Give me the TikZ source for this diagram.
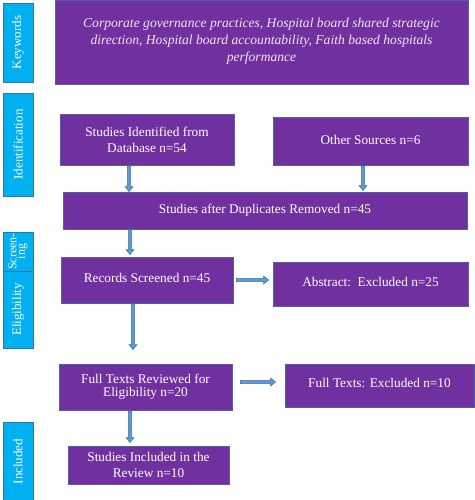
\documentclass[tikz,border=0pt]{standalone}
\usepackage{fontspec}
\setmainfont{Liberation Serif}
\usetikzlibrary{calc}
\definecolor{purp}{HTML}{7030A0}
\definecolor{purpedge}{HTML}{4F5FA0}
\definecolor{sideblue}{HTML}{00B0F0}
\definecolor{sideedge}{HTML}{2E75B6}
\definecolor{arrfill}{HTML}{5B9BD5}
\definecolor{arredge}{HTML}{41719C}
\tikzset{
  pbox/.style={draw=purpedge, line width=0.8pt, fill=purp, text=white, inner sep=0pt, align=center,
    font=\fontsize{13.3}{16}\selectfont},
  sidebox/.style={draw=sideedge, line width=0.8pt, fill=sideblue, text=white, inner sep=0pt,
    minimum width=30pt, align=center},
  sidetext/.style={rotate=90, text=white, align=center, font=\fontsize{13}{14}\selectfont},
  darrow/.style={draw=arredge, fill=arrfill, line width=0.5pt, to path={
    let \p1=(\tikztostart), \p2=(\tikztotarget) in
    (\x1-1.6pt,\y1) -- (\x1-1.6pt,\y2+5pt) -- (\x1-4pt,\y2+5pt) -- (\x1,\y2) --
    (\x1+4pt,\y2+5pt) -- (\x1+1.6pt,\y2+5pt) -- (\x1+1.6pt,\y1) -- cycle}},
  rarrow/.style={draw=arredge, fill=arrfill, line width=0.5pt, to path={
    let \p1=(\tikztostart), \p2=(\tikztotarget) in
    (\x1,\y1+1.6pt) -- (\x2-5pt,\y1+1.6pt) -- (\x2-5pt,\y1+4pt) -- (\x2,\y1) --
    (\x2-5pt,\y1-4pt) -- (\x2-5pt,\y1-1.6pt) -- (\x1,\y1-1.6pt) -- cycle}}
}
\begin{document}
\begin{tikzpicture}[x=1pt,y=-1pt]
\useasboundingbox (0,0) rectangle (474,500);
\fill[white] (0,0) rectangle (474,500);

% side labels
\node[sidebox, minimum height=79pt] (kwL) at (18,42.5) {};
\node[sidetext] (kwT) at (kwL.center) {Keywords};
\node[sidebox, minimum height=103pt] (idL) at (18,144.5) {};
\node[sidetext] (idT) at (idL.center) {Identification};
\node[sidebox, minimum height=39pt] (scL) at (18,251.5) {};
\node[sidetext, font=\fontsize{12}{8.5}\selectfont] (scT) at (scL.center) {Screen-\\ing};
\node[sidebox, minimum height=77pt] (elL) at (18,309.5) {};
\node[sidetext] (elT) at (elL.center) {Eligibility};
\node[sidebox, minimum height=79pt] (inL) at (18,461.5) {};
\node[sidetext] (inT) at (inL.center) {Included};

% main boxes
\node[pbox, minimum width=413pt, minimum height=84pt,
  font=\fontsize{13.6}{16}\selectfont\itshape, text=white!88!purp] (kw) at (261.5,42)
  {\raisebox{4pt}{\shortstack{Corporate governance practices, Hospital board shared strategic\\[1.5pt]
   direction, Hospital board accountability, Faith based hospitals\\[1.5pt] performance}}};
\node[pbox, minimum width=174pt, minimum height=51pt] (db) at (147,139.5)
  {Studies Identified from\\Database n=54};
\node[pbox, minimum width=195pt, minimum height=48pt] (other) at (370.5,141)
  {\raisebox{3pt}{Other Sources n=6}};
\node[pbox, minimum width=404pt, minimum height=37pt] (dup) at (265,210.5)
  {Studies after Duplicates Removed n=45};
\node[pbox, minimum width=172pt, minimum height=46pt] (rec) at (147,280)
  {\raisebox{4pt}{Records Screened n=45}};
\node[pbox, minimum width=195pt, minimum height=44pt] (abs) at (370.5,284)
  {\raisebox{4pt}{Abstract:\ \ Excluded n=25}};
\node[pbox, minimum width=173pt, minimum height=46pt] (full) at (145.5,387)
  {\raisebox{2pt}{\shortstack{Full Texts Reviewed for\\[1pt]Eligibility n=20}}};
\node[pbox, minimum width=189pt, minimum height=43pt] (fex) at (379.5,385.5)
  {\raisebox{5pt}{Full Texts: Excluded n=10}};
\node[pbox, minimum width=161pt, minimum height=38pt] (inc) at (148.5,465)
  {Studies Included in the\\Review n=10};

% arrows
\draw[darrow] ([xshift=-18pt,yshift=-1pt]db.south) to ([xshift=-18pt]db.south |- dup.north);
\draw[darrow] ([xshift=-7.5pt,yshift=-1pt]other.south) to ([xshift=-7.5pt,yshift=1pt]other.south |- dup.north);
\draw[darrow] ([xshift=-17pt]rec.north |- dup.south) to ([xshift=-17pt,yshift=2pt]rec.north);
\draw[darrow] ([xshift=-14pt,yshift=-1pt]rec.south) to ([xshift=-14pt,yshift=14pt]rec.south |- full.north);
\draw[darrow] ([xshift=-15.5pt,yshift=-1pt]full.south) to ([xshift=-15.5pt,yshift=3pt]full.south |- inc.north);
\draw[rarrow] ([xshift=3pt]rec.east) to ([xshift=-4pt]rec.east -| abs.west);
\draw[rarrow] ([xshift=8pt,yshift=5pt]full.east) to ([xshift=-9pt,yshift=5pt]full.east -| fex.west);
\end{tikzpicture}
\end{document}
